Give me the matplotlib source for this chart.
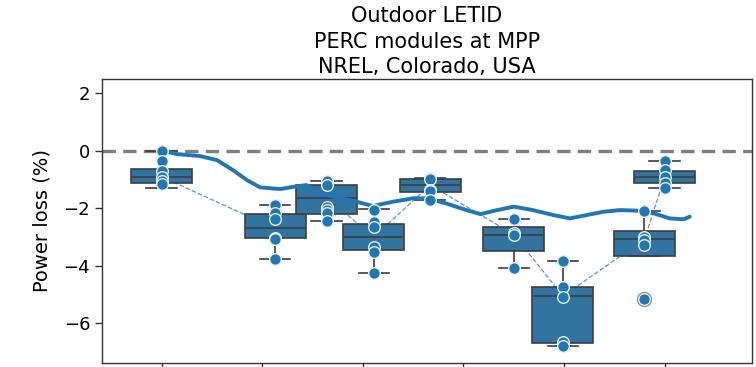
import numpy as np
import matplotlib
matplotlib.use("Agg")
import matplotlib.pyplot as plt

# --- data -------------------------------------------------------------
# position of each measurement campaign on the time axis (tick units)
box_pos = [0.00, 1.13, 1.64, 2.11, 2.67, 3.50, 3.99, 4.80, 5.00]

# box statistics per campaign (power loss, %)
whis_hi = [0.00, -1.90, -1.05, -2.03, -0.95, -2.38, -3.84, -2.10, -0.35]
q3      = [-0.64, -2.22, -1.20, -2.57, -1.00, -2.65, -4.76, -2.79, -0.71]
median  = [-0.91, -2.71, -1.64, -3.00, -1.20, -2.92, -5.06, -3.09, -0.93]
q1      = [-1.14, -3.05, -2.19, -3.46, -1.43, -3.50, -6.68, -3.67, -1.14]
whis_lo = [-1.31, -3.77, -2.44, -4.25, -1.72, -4.08, -6.79, -3.67, -1.29]
fliers  = [[], [], [], [], [], [], [], [-5.18], []]

# individual module measurements per campaign
modules = [
    [0.00, -0.36, -0.70, -0.92, -1.05, -1.18],
    [-1.90, -2.18, -2.39, -3.03, -3.06, -3.77],
    [-1.05, -1.20, -1.95, -2.05, -2.18, -2.44],
    [-2.07, -2.48, -2.65, -3.35, -3.52, -4.25],
    [-0.95, -1.00, -1.37, -1.40, -1.72],
    [-2.38, -2.88, -2.93, -4.08],
    [-3.84, -4.76, -5.09, -6.65, -6.79],
    [-2.10, -3.00, -3.10, -3.30, -5.18],
    [-0.35, -0.68, -0.91, -1.14, -1.29],
]

# continuous outdoor power-loss trace
trace_x = [0.00, 0.15, 0.38, 0.55, 0.71, 0.85, 0.98, 1.18, 1.31, 1.44, 1.57,
           1.77, 1.94, 2.10, 2.30, 2.50, 2.64, 2.83, 3.03, 3.17, 3.30, 3.50,
           3.69, 3.89, 4.06, 4.23, 4.39, 4.56, 4.72, 4.89, 5.05, 5.19, 5.25]
trace_y = [0.00, -0.12, -0.19, -0.33, -0.68, -1.03, -1.28, -1.34, -1.26, -1.20,
           -1.49, -1.65, -1.78, -1.93, -1.78, -1.66, -1.66, -1.84, -2.07, -2.21,
           -2.10, -1.95, -2.07, -2.24, -2.36, -2.24, -2.13, -2.07, -2.09, -2.18,
           -2.36, -2.39, -2.30]

x_ticks = [0, 1, 2, 3, 4, 5]
y_ticks = [-6, -4, -2, 0, 2]

# --- figure -------------------------------------------------------------
plt.rcParams['font.family'] = ['DejaVu Sans']
fig = plt.figure(figsize=(7.56, 3.67), dpi=100)
ax = fig.add_axes([102 / 756, 1 - 363 / 367, 650 / 756, 284 / 367])

blue = '#1f77b4'
box_face = '#3274a1'
edge = '#3d3d3d'

# reference line at zero loss
ax.axhline(0, color='#7f7f7f', linestyle=(0, (4, 2.2)), linewidth=2.4, zorder=1)

# median trend line between campaigns
ax.plot(box_pos, median, color=blue, linestyle='--', linewidth=0.9,
        alpha=0.75, zorder=1.5)

stats = []
for i in range(len(box_pos)):
    stats.append(dict(med=median[i], q1=q1[i], q3=q3[i],
                      whislo=whis_lo[i], whishi=whis_hi[i], fliers=fliers[i]))

ax.bxp(stats, positions=box_pos, widths=0.606, patch_artist=True,
       manage_ticks=False, capwidths=0.3,
       boxprops=dict(facecolor=box_face, edgecolor=edge, linewidth=1.2),
       medianprops=dict(color=edge, linewidth=1.2),
       whiskerprops=dict(color=edge, linewidth=1.2),
       capprops=dict(color=edge, linewidth=1.2),
       flierprops=dict(marker='o', markerfacecolor='#8a8a8a',
                       markeredgecolor='#8a8a8a', markersize=10))
for art in ax.patches:
    art.set_zorder(2)

# continuous trace
ax.plot(trace_x, trace_y, color=blue, linewidth=2.8, zorder=3,
        solid_capstyle='round', solid_joinstyle='round')

# individual modules
for pos, vals in zip(box_pos, modules):
    ax.scatter([pos] * len(vals), vals, s=70, color=blue,
               edgecolors='#e6eef5', linewidths=1.0, zorder=4)

ax.set_xlim(-0.592, 5.869)
ax.set_ylim(-7.39, 2.49)
ax.set_xticks(x_ticks)
ax.set_xticklabels([''] * len(x_ticks))
ax.set_yticks(y_ticks)
ax.tick_params(axis='both', labelsize=13, length=5, width=1, color='#333333')
ax.set_ylabel('Power loss (%)', fontsize=14, labelpad=9)
ax.set_title('Outdoor LETID\nPERC modules at MPP\nNREL, Colorado, USA',
             fontsize=15, pad=4, linespacing=1.35)
for sp in ax.spines.values():
    sp.set_color('#333333')
    sp.set_linewidth(1.0)

fig.savefig('out.png', dpi=100)
